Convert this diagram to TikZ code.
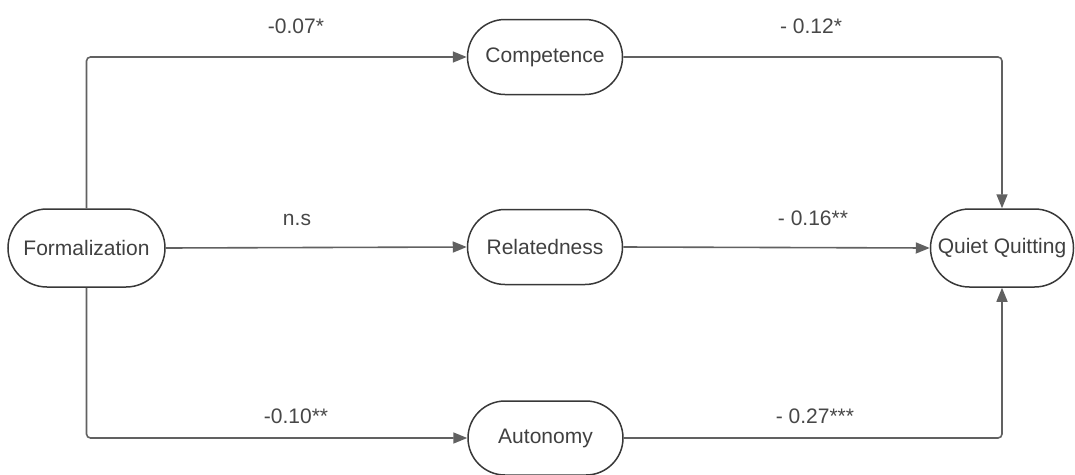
\documentclass[tikz,border=0pt]{standalone}
\usepackage{fontspec}
\setmainfont{Liberation Sans}
\usetikzlibrary{arrows.meta,shapes.misc}
\begin{document}
\begin{tikzpicture}[x=1pt,y=-1pt,
  box/.style={draw=black!78, line width=1.5pt, rounded rectangle, minimum height=75pt, minimum width=155pt, inner sep=0pt, font=\fontsize{21}{25}\selectfont, text=black!75},
  link/.style={draw=black!62, line width=1.6pt, -{Triangle[length=14pt,width=11pt]}, rounded corners=4pt},
  lab/.style={font=\fontsize{21}{25}\selectfont, text=black!72, anchor=base}]
\useasboundingbox (0,0) rectangle (1075,474);
\node[box, minimum width=157pt, minimum height=78pt] (F) at (86.5,248) {Formalization};
\node[box] (C) at (545,57) {Competence};
\node[box] (R) at (545,247) {Relatedness};
\node[box, minimum height=74pt] (A) at (545.5,438) {Autonomy};
\node[box, minimum width=143pt, minimum height=78pt] (Q) at (1002,248) {Quiet Quitting};
\draw[link] (F.north) |- (C.west);
\draw[link] (F.south) |- (A.west);
\draw[link] (F.east) -- (R.west);
\draw[link] (C.east) -| (Q.north);
\draw[link] (R.east) -- (Q.west);
\draw[link] (A.east) -| (Q.south);
\node[lab] (l1) at (296,33) {-0.07*};
\node[lab] (l2) at (811,33) {- 0.12*};
\node[lab] (l3) at (297,225) {n.s};
\node[lab] (l4) at (813,225) {- 0.16**};
\node[lab] (l5) at (296,423) {-0.10**};
\node[lab] (l6) at (815,423) {- 0.27***};
\end{tikzpicture}
\end{document}
